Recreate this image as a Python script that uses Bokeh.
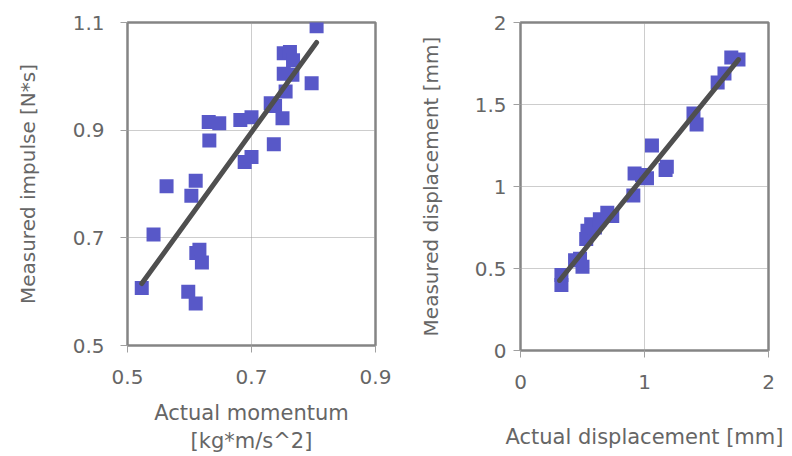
from bokeh.plotting import figure
from bokeh.layouts import row
from bokeh.models import FixedTicker, CustomJSTickFormatter
from bokeh.embed import file_html
from bokeh.resources import INLINE

# ---- data: left panel (impulse vs momentum) ----
momentum = [0.805, 0.752, 0.762, 0.767, 0.797, 0.752, 0.766, 0.755, 0.731, 0.738,
            0.750, 0.736, 0.700, 0.682, 0.631, 0.648, 0.632, 0.700, 0.689, 0.563,
            0.610, 0.603, 0.542, 0.616, 0.611, 0.620, 0.523, 0.598, 0.610]
impulse = [1.093, 1.043, 1.045, 1.030, 0.987, 1.005, 1.003, 0.972, 0.950, 0.945,
           0.922, 0.874, 0.924, 0.919, 0.915, 0.913, 0.881, 0.850, 0.841, 0.796,
           0.806, 0.778, 0.706, 0.678, 0.672, 0.654, 0.607, 0.600, 0.578]
trend1_x = [0.523, 0.805]
trend1_y = [0.615, 1.063]

# ---- data: right panel (displacement) ----
disp_actual = [0.33, 0.33, 0.44, 0.50, 0.48, 0.53, 0.54, 0.57, 0.60, 0.64, 0.70, 0.74,
               0.91, 0.92, 0.98, 1.02, 1.06, 1.17, 1.18, 1.395, 1.42, 1.59, 1.645,
               1.70, 1.758]
disp_measured = [0.40, 0.46, 0.55, 0.51, 0.56, 0.68, 0.73, 0.77, 0.75, 0.80, 0.84, 0.82,
                 0.945, 1.08, 1.07, 1.05, 1.25, 1.10, 1.12, 1.445, 1.378, 1.634, 1.689,
                 1.787, 1.774]
trend2_x = [0.315, 1.758]
trend2_y = [0.427, 1.774]

left_xticks = [0.5, 0.7, 0.9]
left_yticks = [0.5, 0.7, 0.9, 1.1]
right_xticks = [0, 1, 2]
right_yticks = [0, 0.5, 1, 1.5, 2]

FONT = "DejaVu Sans"
TXT = "#666666"
FRAME = "#858585"
MARK = "#5858c8"
LINE = "#4f4f4f"
fmt = CustomJSTickFormatter(code="return String(Math.round(tick*100)/100);")


def style(p, xt, yt):
    p.outline_line_color = FRAME
    p.outline_line_width = 2.5
    p.xaxis.ticker = FixedTicker(ticks=xt)
    p.yaxis.ticker = FixedTicker(ticks=yt)
    for ax in (p.xaxis[0], p.yaxis[0]):
        ax.formatter = fmt
        ax.axis_line_color = None
        ax.major_tick_line_color = "#a0a0a0"
        ax.major_tick_out = 7
        ax.major_tick_in = 0
        ax.minor_tick_line_color = None
        ax.major_label_text_font = FONT
        ax.major_label_text_font_size = "20px"
        ax.major_label_text_color = TXT
        ax.axis_label_text_font = FONT
        ax.axis_label_text_font_style = "normal"
        ax.axis_label_text_color = TXT
    p.xaxis.axis_label_text_font_size = "21px"
    p.yaxis.axis_label_text_font_size = "20px"
    for g in (p.xgrid[0], p.ygrid[0]):
        g.grid_line_color = "#9a9a9a"
        g.grid_line_dash = "1 1"
        g.grid_line_width = 1
    p.background_fill_color = "white"
    p.border_fill_color = "white"


p1 = figure(frame_width=248, frame_height=323, x_range=(0.5, 0.9), y_range=(0.5, 1.1),
            min_border_left=127, min_border_right=25, min_border_top=22,
            min_border_bottom=105, output_backend="svg", toolbar_location=None)
style(p1, left_xticks, left_yticks)
p1.xaxis.axis_label = "Actual momentum\n[kg*m/s^2]"
p1.yaxis.axis_label = "Measured impulse [N*s]"
p1.xaxis.major_label_standoff = 17
p1.yaxis.major_label_standoff = 16
p1.xaxis.axis_label_standoff = 14
p1.yaxis.axis_label_standoff = 30
p1.scatter(x=momentum, y=impulse, marker="square", size=14, fill_color=MARK,
           line_color=None)
p1.line(x=trend1_x, y=trend1_y, line_color=LINE, line_width=5, line_cap="round")

p2 = figure(frame_width=248, frame_height=328, x_range=(0, 2), y_range=(0, 2),
            min_border_left=120, min_border_right=16, min_border_top=22,
            min_border_bottom=100, output_backend="svg", toolbar_location=None)
style(p2, right_xticks, right_yticks)
p2.xaxis.axis_label = "Actual displacement [mm]"
p2.yaxis.axis_label = "Measured displacement [mm]"
p2.xaxis.major_label_standoff = 17
p2.yaxis.major_label_standoff = 7
p2.xaxis.axis_label_standoff = 33
p2.yaxis.axis_label_standoff = 29
p2.scatter(x=disp_actual, y=disp_measured, marker="square", size=14, fill_color=MARK,
           line_color=None)
p2.line(x=trend2_x, y=trend2_y, line_color=LINE, line_width=5, line_cap="round")

layout = row(p1, p2)
open("out.html", "w").write(file_html(layout, INLINE))
